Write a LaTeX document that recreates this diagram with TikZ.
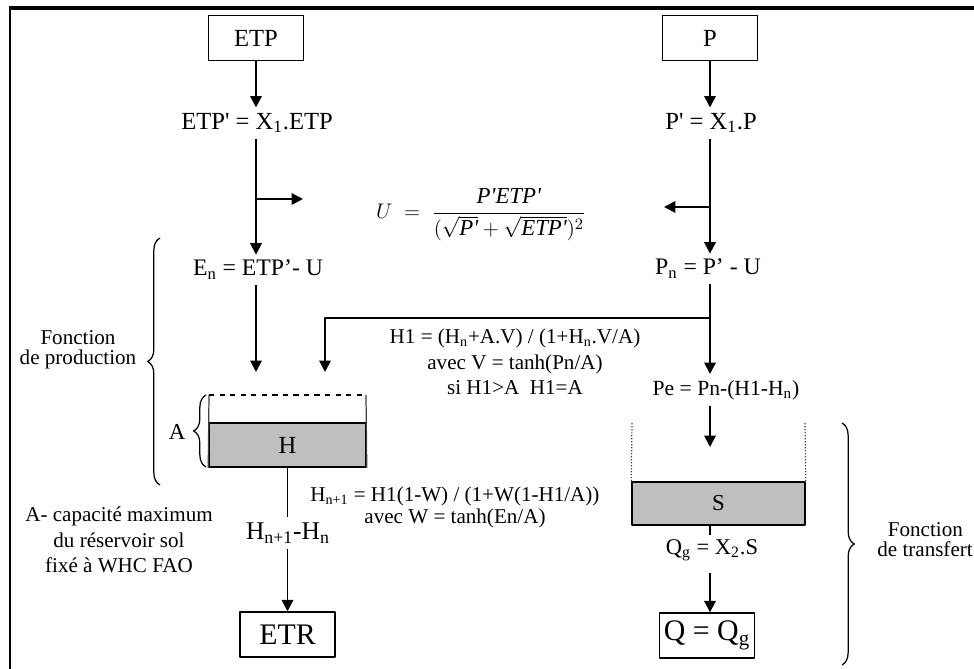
\documentclass[tikz,border=0pt]{standalone}
\usepackage{fontspec}
\setmainfont{Liberation Serif}
\usepackage{amsmath}
\usetikzlibrary{arrows.meta, decorations.pathreplacing}

\tikzset{
  fs/.style={font=\fontsize{#1}{#1}\selectfont},
  flow/.style={line width=1.1pt, -{Triangle[length=6.5pt,width=6.5pt]}},
  link/.style={line width=1.1pt},
  box/.style={draw, line width=0.8pt, minimum width=1.9cm, minimum height=0.9cm, inner sep=0pt},
  tank/.style={draw, line width=0.9pt, fill=gray!50, inner sep=0pt},
  wall/.style={line width=0.7pt, black!75},
  cbrace/.style={decorate, decoration={brace, amplitude=#1}, line width=0.7pt},
  eqn/.style={align=center, inner sep=2pt},
}

\begin{document}
\begin{tikzpicture}[x=0.02cm, y=-0.02cm, font=\fontsize{12}{14.5}\selectfont, line join=round]

    \useasboundingbox (0,0) rectangle (974,669);

    % Frame (only left and top edges are in the picture)
    \draw[line width=1.2pt] (10,669) -- (10,8);
    \draw[line width=1.9pt] (9,8) -- (974,8);

    % Inputs
    \node[box, fs=14] (etp) at (256,38) {ETP};
    \node[box, fs=14] (p)   at (710,38) {P};

    \node[fs=14, inner sep=3pt] (etpp) at (257,123) {ETP\textquotesingle{} = X\textsubscript{1}.ETP};
    \node[fs=14, inner sep=3pt] (pp)   at (711,123) {P\textquotesingle{} = X\textsubscript{1}.P};

    \draw[flow] (etp) -- (etp |- etpp.north);
    \draw[flow] (p) -- (p |- pp.north);

    % Neutralisation U
    \node[fs=13] (ueq) at (481,215)
      {$U\;=\;\dfrac{\textit{P\textquotesingle ETP\textquotesingle}}
        {(\sqrt{\textit{P\textquotesingle}}+\sqrt{\textit{ETP\textquotesingle}})^2}$};

    \node[fs=13.5, inner sep=3pt] (en) at (258,270) {E\textsubscript{n} = ETP’- U};
    \node[fs=13.5, inner sep=3pt] (pn) at (708,269) {P\textsubscript{n} = P’ - U};

    \draw[flow] (etp |- etpp.south) -- (etp |- en.north);
    \draw[flow] (p |- pp.south) -- (p |- pn.north);

    \coordinate (UL) at (303,199);
    \coordinate (UR) at (664,207);
    \draw[flow] (etp |- UL) -- (UL);
    \draw[flow] (p |- UR) -- (UR);

    % Production store H
    \node[tank, fs=14, minimum width=3.14cm, minimum height=0.88cm] (h) at (287.5,445) {H};
    \draw[dashed, line width=0.8pt] (209,395) -- (366,395);
    \draw[wall] (h.south west) -- (209,395);
    \draw[wall] (h.south east) -- (366,395);
    \draw[cbrace=7pt] (206,467) -- (206,395);
    \node[fs=13] (a) at (177,432) {A};

    \coordinate (HIN) at (256,372);
    \coordinate (HJ) at (710,318);
    \coordinate (HIN1) at (325,372);
    \draw[flow] (etp |- en.south) -- (HIN);

    \node[fs=12.3] (pe) at (726,390) {Pe = Pn-(H1-H\textsubscript{n})};
    \draw[flow] (p |- pn.south) -- (p |- pe.north);
    \draw[flow] (HJ) -| (HIN1);

    \node[eqn] (h1eq) at (515,362)
      {H1 = (H\textsubscript{n}+A.V) / (1+H\textsubscript{n}.V/A)\\
       avec V = tanh(Pn/A)\\
       si H1>A~~H1=A};

    % Outflow of H
    \node[fs=14.5, inner sep=3pt] (hd) at (288,533) {H\textsubscript{n+1}-H\textsubscript{n}};
    \node[box, fs=17] (etr) at (287.5,634.5) {ETR};
    \draw[link] (h.south) -- (h.south |- hd.north);
    \draw[flow] (h.south |- hd.south) -- (etr);

    \node[eqn] (hneq) at (455,507)
      {H\textsubscript{n+1} = H1(1-W) / (1+W(1-H1/A))\\[-2pt]
       avec W = tanh(En/A)};

    \node[align=center] (acap) at (119,540)
      {A- capacité maximum\\ du réservoir sol\\ fixé à WHC FAO};

    % Transfer store S
    \coordinate (SIN) at (710,447);
    \draw[flow] (p |- pe.south) -- (SIN);

    \node[tank, fs=13, minimum width=3.46cm, minimum height=0.86cm] (s) at (718.5,503.5) {S};
    \draw[wall, densely dotted] (s.north west) -- (632,423);
    \draw[wall, densely dotted] (s.north east) -- (805,423);

    \node[fs=12.8, inner sep=2pt] (qg) at (712,550) {Q\textsubscript{g} = X\textsubscript{2}.S};
    \node[box, fs=17] (q) at (707,635.5) {Q = Q\textsubscript{g}};
    \draw[link] (p |- s.south) -- (p |- qg.north);
    \draw[flow] (p |- qg.south) ++(0,8) -- (p |- q.north);

    % Braces
    \draw[cbrace=7pt] (160,485) -- (160,238);
    \node[align=center] (fprod) at (78,350) {Fonction\\[-3pt]de production};

    \draw[cbrace=7pt] (842,423) -- (842,665);
    \node[align=left, anchor=west, inner sep=0pt] (ftrans) at (877,540)
      {\hspace{6pt}Fonction\\[-3pt]de transfert};

\end{tikzpicture}
\end{document}
